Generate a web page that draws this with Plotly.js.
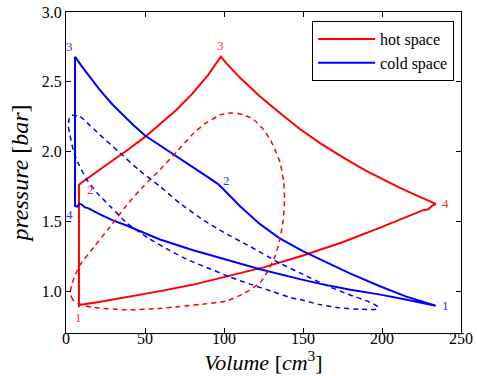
<!DOCTYPE html>
<html>
<head>
<meta charset="utf-8">
<script src="https://cdn.plot.ly/plotly-3.0.1.min.js"></script>
<style>html,body{margin:0;padding:0;background:#fff;}#chart{width:477px;height:376px;}</style>
</head>
<body>
<div id="chart"></div>
<script>
// Hot space, solid cycle (1 -> 2 -> 3 -> 4 -> 1)
const hotV = [8.2, 8.2, 9.5, 12, 20, 30, 40, 50, 59.5, 70, 80, 90, 98,
  101.7, 110, 122.8, 135, 148, 160.8, 175, 190, 211.4, 225, 234,
  231.4, 229.3, 226.1, 222.9, 200, 175, 150, 125, 100, 80, 59.5, 40, 20, 8.2];
const hotP = [0.885, 1.76, 1.775, 1.795, 1.86, 1.935, 2.02, 2.105, 2.195, 2.30, 2.415, 2.55, 2.68,
  2.63, 2.53, 2.395, 2.28, 2.162, 2.06, 1.96, 1.862, 1.74, 1.67, 1.625,
  1.61, 1.586, 1.58, 1.565, 1.46, 1.35, 1.255, 1.17, 1.098, 1.045, 1.0, 0.958, 0.92, 0.90];

// Cold space, solid cycle (3 -> 4 -> 1 -> 2 -> 3)
const coldV = [5.7, 5.7, 7, 8.5, 10, 12, 14, 17.3, 21.5, 30, 38.4, 50, 59.5, 80, 100, 122.8,
  148, 161, 180, 199, 215, 234,
  215, 198.7, 180, 160.8, 150.2, 135, 122.8, 110, 96.5,
  90, 80, 70, 59.5, 50, 42.6, 30, 21.5, 15, 10, 5.7];
const coldP = [2.68, 1.61, 1.605, 1.625, 1.62, 1.60, 1.595, 1.574, 1.55, 1.505, 1.47, 1.415, 1.37, 1.295, 1.23, 1.157,
  1.086, 1.052, 1.01, 0.975, 0.94, 0.895,
  0.962, 1.035, 1.125, 1.225, 1.285, 1.38, 1.48, 1.61, 1.765,
  1.815, 1.89, 1.96, 2.04, 2.115, 2.19, 2.33, 2.44, 2.535, 2.61, 2.68];

// Hot space, dashed loop
const hotDashV = [2.8, 3.4, 5, 8, 12, 17.3, 38.4, 59.5, 72, 85, 101.7, 112, 122.8, 128, 132.3, 135.5, 137.5,
  138.3, 137.8, 135.5, 132, 129, 124, 118.6, 112, 105, 98, 95.4, 88, 80.6, 71, 59.5, 48.9,
  38, 27.8, 18, 9, 6, 3.8, 2.8];
const hotDashP = [1.0, 0.96, 0.93, 0.91, 0.895, 0.883, 0.866, 0.876, 0.89, 0.905, 0.93, 0.98, 1.06, 1.15, 1.25, 1.38, 1.51,
  1.65, 1.78, 1.92, 2.02, 2.09, 2.17, 2.23, 2.265, 2.276, 2.265, 2.25, 2.20, 2.13, 2.01, 1.87, 1.75,
  1.61, 1.46, 1.32, 1.19, 1.12, 1.05, 1.0];

// Cold space, dashed loop
const coldDashV = [3.6, 8.9, 14, 20, 34.2, 46, 59.5, 72, 86.9, 100, 116.5, 135.4, 150, 162.9, 178, 192.4,
  197.7, 196, 192.4, 183, 173.4, 160, 148, 141.8, 130, 116.5, 104, 91.8, 78, 65.8, 52, 38.4,
  27.8, 20, 13.1, 8, 4.6, 2.5, 1.5, 2.0, 3.6];
const coldDashP = [2.26, 2.25, 2.20, 2.135, 1.99, 1.87, 1.75, 1.63, 1.51, 1.42, 1.32, 1.20, 1.12, 1.05, 0.98, 0.92,
  0.885, 0.87, 0.868, 0.872, 0.88, 0.905, 0.94, 0.955, 1.0, 1.05, 1.10, 1.157, 1.22, 1.29, 1.38, 1.49,
  1.61, 1.70, 1.80, 1.91, 2.01, 2.12, 2.18, 2.235, 2.26];

const legendNames = ['hot space', 'cold space'];
const stateLabels = ['1', '2', '3', '4'];
const xTickVals = [0, 50, 100, 150, 200, 250];
const yTickVals = [1.0, 1.5, 2.0, 2.5, 3.0];

const RED = '#ff0000', BLUE = '#0000ff';
const FONT = 'Liberation Serif';

const traces = [
  {x: hotV, y: hotP, mode: 'lines', name: legendNames[0], line: {color: RED, width: 2}},
  {x: coldV, y: coldP, mode: 'lines', name: legendNames[1], line: {color: BLUE, width: 2}},
  {x: hotDashV, y: hotDashP, mode: 'lines', showlegend: false, line: {color: RED, width: 1.5, dash: '5px,4px', shape: 'spline', smoothing: 0.6}},
  {x: coldDashV, y: coldDashP, mode: 'lines', showlegend: false, line: {color: BLUE, width: 1.5, dash: '5px,4px', shape: 'spline', smoothing: 0.6}}
];

function lab(x, y, t, c) {
  return {x: x, y: y, xref: 'x', yref: 'y', text: t, showarrow: false,
    font: {family: FONT, size: 13, color: c}};
}
const annotations = [
  lab(8.2, 0.814, stateLabels[0], '#f33'),
  lab(15.2, 1.73, stateLabels[1], '#f33'),
  lab(98, 2.757, stateLabels[2], '#f33'),
  lab(240.5, 1.63, stateLabels[3], '#f33'),
  lab(240.5, 0.9, stateLabels[0], '#33f'),
  lab(101.3, 1.793, stateLabels[1], '#33f'),
  lab(1.9, 2.75, stateLabels[2], '#33f'),
  lab(1.9, 1.55, stateLabels[3], '#33f')
];

function axisCommon() {
  return {
    showline: true, linecolor: '#000', linewidth: 1, mirror: 'ticks',
    ticks: 'inside', ticklen: 5, tickcolor: '#000', tickwidth: 1,
    showgrid: false, zeroline: false, automargin: false,
    tickfont: {family: FONT, size: 16, color: '#000'}
  };
}

const layout = {
  width: 477, height: 376,
  margin: {l: 66, r: 16, t: 12, b: 43},
  paper_bgcolor: '#fff', plot_bgcolor: '#fff',
  font: {family: FONT, color: '#000'},
  showlegend: true,
  legend: {x: 0.623, y: 0.972, xanchor: 'left', yanchor: 'top',
    bordercolor: '#000', borderwidth: 1, bgcolor: '#fff', itemwidth: 57,
    font: {family: FONT, size: 16, color: '#000'}},
  xaxis: Object.assign(axisCommon(), {
    range: [0, 250], tickvals: xTickVals, ticklabelstandoff: -9,
    title: {text: '<i>Volume</i> [<i>cm</i><sup>3</sup>]', font: {family: FONT, size: 22}, standoff: 8}
  }),
  yaxis: Object.assign(axisCommon(), {
    range: [0.7, 3.0], tickvals: yTickVals, tickformat: '.1f',
    title: {text: '<i>pressure</i> [<i>bar</i>]', font: {family: FONT, size: 24}, standoff: 6}
  }),
  annotations: annotations
};

Plotly.newPlot('chart', traces, layout, {staticPlot: true, displayModeBar: false});
</script>
</body>
</html>
